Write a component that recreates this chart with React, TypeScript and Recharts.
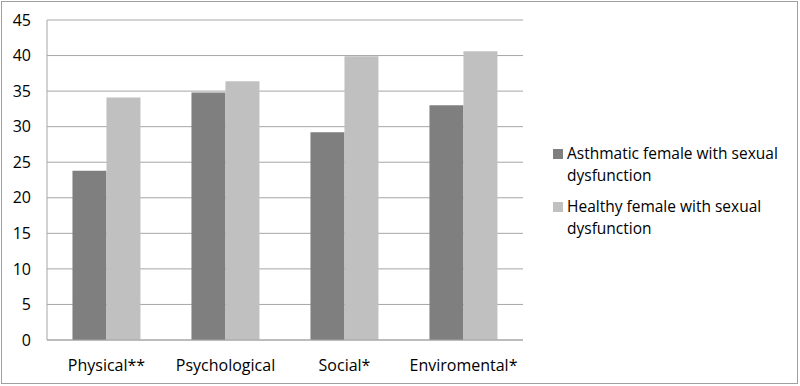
import { Bar, BarChart, CartesianGrid, Legend, XAxis, YAxis } from "recharts"

const CATEGORIES = ["Physical**", "Psychological", "Social*", "Enviromental*"]
const ASTHMATIC = [23.8, 34.8, 29.2, 33.0]
const HEALTHY = [34.1, 36.4, 39.9, 40.6]
const Y_TICKS = [0, 5, 10, 15, 20, 25, 30, 35, 40, 45]

const SERIES = [
  { key: "asthmatic", name: "Asthmatic female with sexual dysfunction", color: "#7f7f7f" },
  { key: "healthy", name: "Healthy female with sexual dysfunction", color: "#c0c0c0" },
]

const data = CATEGORIES.map((c, i) => ({
  category: c,
  asthmatic: ASTHMATIC[i],
  healthy: HEALTHY[i],
}))

const FONT = "'Open Sans', sans-serif"

function LegendBox() {
  return (
    <div style={{ fontFamily: FONT, fontSize: 15.5, color: "#000", lineHeight: "22px" }}>
      {SERIES.map((s) => (
        <div key={s.key} style={{ display: "flex", alignItems: "flex-start", marginBottom: 9 }}>
          <span
            style={{
              width: 10,
              height: 10,
              background: s.color,
              marginTop: 7,
              marginRight: 4,
              flexShrink: 0,
            }}
          />
          <span style={{ width: 228 }}>{s.name}</span>
        </div>
      ))}
    </div>
  )
}

export default function App() {
  return (
    <div style={{ position: "fixed", left: 0, top: 0, width: 800, height: 386, background: "#fff" }}>
      <div
        style={{
          position: "absolute",
          left: 1,
          top: 1,
          width: 797,
          height: 383,
          border: "1px solid #a0a0a0",
          boxSizing: "border-box",
        }}
      />
      <BarChart
        width={800}
        height={386}
        data={data}
        margin={{ top: 20, right: 277, bottom: 16, left: 0 }}
        barCategoryGap="21.4%"
        barGap={0}
      >
        <CartesianGrid vertical={false} stroke="#a6a6a6" />
        <XAxis
          dataKey="category"
          height={30}
          tickLine={false}
          axisLine={{ stroke: "#a6a6a6" }}
          tick={{ fill: "#000", fontSize: 16, fontFamily: FONT }}
          tickMargin={14}
          interval={0}
        />
        <YAxis
          width={47}
          domain={[0, 45]}
          ticks={Y_TICKS}
          tickLine={false}
          axisLine={{ stroke: "#a6a6a6" }}
          tick={{ fill: "#000", fontSize: 16, fontFamily: FONT }}
          tickMargin={16}
          tickSize={0}
        />
        <Legend
          layout="vertical"
          align="center"
          verticalAlign="middle"
          content={() => <LegendBox />}
          wrapperStyle={{ left: 553, top: 142, width: 245 }}
        />
        {SERIES.map((s) => (
          <Bar key={s.key} dataKey={s.key} name={s.name} fill={s.color} isAnimationActive={false} />
        ))}
      </BarChart>
    </div>
  )
}
